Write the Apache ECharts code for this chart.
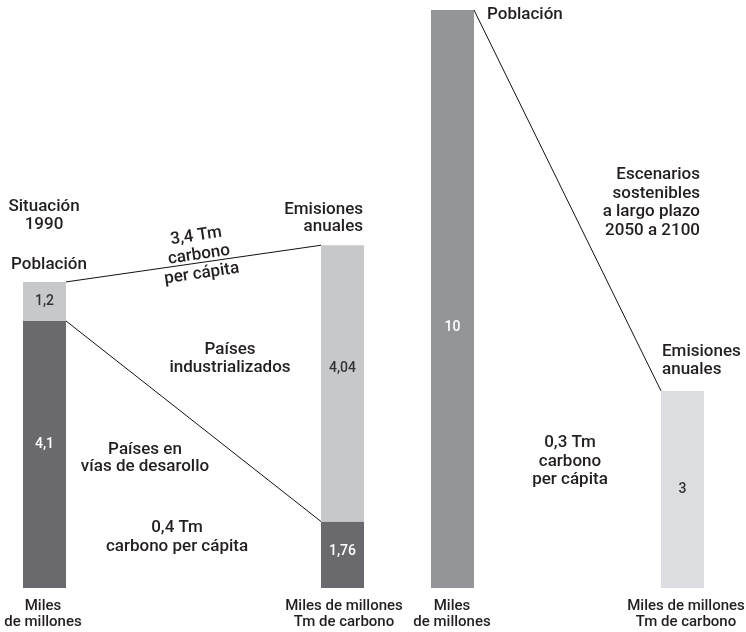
<!DOCTYPE html>
<html>
<head>
<meta charset="utf-8">
<script src="https://cdn.jsdelivr.net/npm/echarts@6/dist/echarts.min.js"></script>
<style>
  html, body { margin: 0; padding: 0; background: #ffffff; }
  #chart { width: 746px; height: 632px; }
</style>
</head>
<body>
<div id="chart"></div>
<script>
// ---- Data ----
const barKeys = ['Población 1990', 'Emisiones anuales 1990', 'Población sostenible', 'Emisiones anuales sostenibles'];
// numbers printed on the bars
const lowerValues = [4.1, 1.76, 10, 3];      // países en vías de desarrollo / escenario
const upperValues = [1.2, 4.04, null, null]; // países industrializados
// bar heights as drawn in the picture (the original is not to scale)
const lowerDrawn = [4.62, 1.15, 10, 3.41];
const upperDrawn = [0.675, 4.78, 0, 0];

// ---- Layout & style (not data) ----
const FONT = 'Roboto, "Noto Sans", sans-serif';
const TEXT = '#231f20';
const BAR_X = [44.5, 342.5, 452.5, 682.5];
const BAR_W = 43;
const COLORS = [
  { lower: '#6a6a6e', upper: '#c7c8ca' },
  { lower: '#6a6a6e', upper: '#c7c8ca' },
  { lower: '#939598' },
  { lower: '#dcdde0' }
];
const LABEL_COLORS = [
  { lower: '#ffffff', upper: '#333333' },
  { lower: '#ffffff', upper: '#333333' },
  { lower: '#ffffff' },
  { lower: '#333333' }
];
const LABEL_DY = [
  { lower: -10, upper: 0 },
  { lower: -3, upper: -15 },
  { lower: 28 },
  { lower: 0 }
];

const fmt = v => String(v).replace('.', ',');

const segments = [];
barKeys.forEach((k, i) => {
  segments.push({ value: [i, 0, lowerDrawn[i]], label: fmt(lowerValues[i]), part: 'lower' });
  if (upperDrawn[i] > 0) {
    segments.push({ value: [i, lowerDrawn[i], lowerDrawn[i] + upperDrawn[i]], label: fmt(upperValues[i]), part: 'upper' });
  }
});

const hw = BAR_W / 2;
const lineTop = [[BAR_X[0] + hw, lowerDrawn[0] + upperDrawn[0]], [BAR_X[1] - hw, lowerDrawn[1] + upperDrawn[1]]];
const lineDev = [[BAR_X[0] + hw, lowerDrawn[0]], [BAR_X[1] - hw, lowerDrawn[1]]];
const lineFut = [[BAR_X[2] + hw, lowerDrawn[2]], [BAR_X[3] - hw, lowerDrawn[3]]];

function txt(text, x, y, align, size, lh, extra) {
  return Object.assign({
    type: 'text', x: x, y: y, silent: true, z: 10,
    style: {
      text: text, fill: TEXT, fontFamily: FONT, fontSize: size, fontWeight: 500,
      align: align, verticalAlign: 'middle', lineHeight: lh
    }
  }, extra || {});
}

const chart = echarts.init(document.getElementById('chart'), null, { renderer: 'canvas' });
const option = {
  backgroundColor: '#ffffff',
  animation: false,
  grid: { left: 0, right: 0, top: 10, bottom: 44 },
  xAxis: { type: 'value', min: 0, max: 746, show: false },
  yAxis: { type: 'value', min: 0, max: 10, show: false },
  series: [
    {
      type: 'custom',
      data: segments,
      silent: true,
      renderItem: function (params, api) {
        const seg = segments[params.dataIndex];
        const i = api.value(0);
        const p0 = api.coord([BAR_X[i] - hw, api.value(1)]);
        const p1 = api.coord([BAR_X[i] + hw, api.value(2)]);
        const cx = (p0[0] + p1[0]) / 2;
        const cy = (p0[1] + p1[1]) / 2 + (LABEL_DY[i][seg.part] || 0);
        return {
          type: 'group',
          children: [
            { type: 'rect', shape: { x: p0[0], y: p1[1], width: p1[0] - p0[0], height: p0[1] - p1[1] },
              style: { fill: COLORS[i][seg.part] } },
            { type: 'text', x: cx, y: cy,
              style: { text: seg.label, fill: LABEL_COLORS[i][seg.part], fontFamily: FONT, fontSize: 14,
                       fontWeight: 500, align: 'center', verticalAlign: 'middle' } }
          ]
        };
      }
    },
    { type: 'line', data: lineTop, symbol: 'none', silent: true, lineStyle: { color: '#111', width: 1 } },
    { type: 'line', data: lineDev, symbol: 'none', silent: true, lineStyle: { color: '#111', width: 1 } },
    { type: 'line', data: lineFut, symbol: 'none', silent: true, lineStyle: { color: '#111', width: 1 } }
  ],
  graphic: [
    txt('Situación\n1990', 44, 216, 'center', 17, 18),
    txt('Población', 49, 265, 'center', 17, 18),
    txt('3,4 Tm\ncarbono\nper cápita', 199, 255, 'center', 17, 19, { rotation: 0.145 }),
    txt('Emisiones\nanuales', 363, 218.5, 'right', 17, 17),
    txt('Países\nindustrializados', 230, 359, 'center', 17, 18),
    txt('Países en\nvías de desarollo', 145, 458.5, 'center', 17, 17),
    txt('0,4 Tm\ncarbono per cápita', 177, 537.5, 'center', 17, 19),
    txt('Miles\nde millones', 43, 614, 'center', 15, 16),
    txt('Miles de millones\nTm de carbono', 344, 614, 'center', 15, 16),
    txt('Miles\nde millones', 452, 614, 'center', 15, 16),
    txt('Miles de millones\nTm de carbono', 686, 614, 'center', 15, 16),
    txt('Población', 487, 15, 'left', 17, 18),
    txt('Escenarios\nsostenibles\na largo plazo\n2050 a 2100', 700, 202.5, 'right', 17, 18.5),
    txt('Emisiones\nanuales', 662, 361, 'left', 17, 18),
    txt('0,3 Tm\ncarbono\nper cápita', 570, 461.5, 'center', 17, 18.5)
  ]
};
chart.setOption(option);
</script>
</body>
</html>
